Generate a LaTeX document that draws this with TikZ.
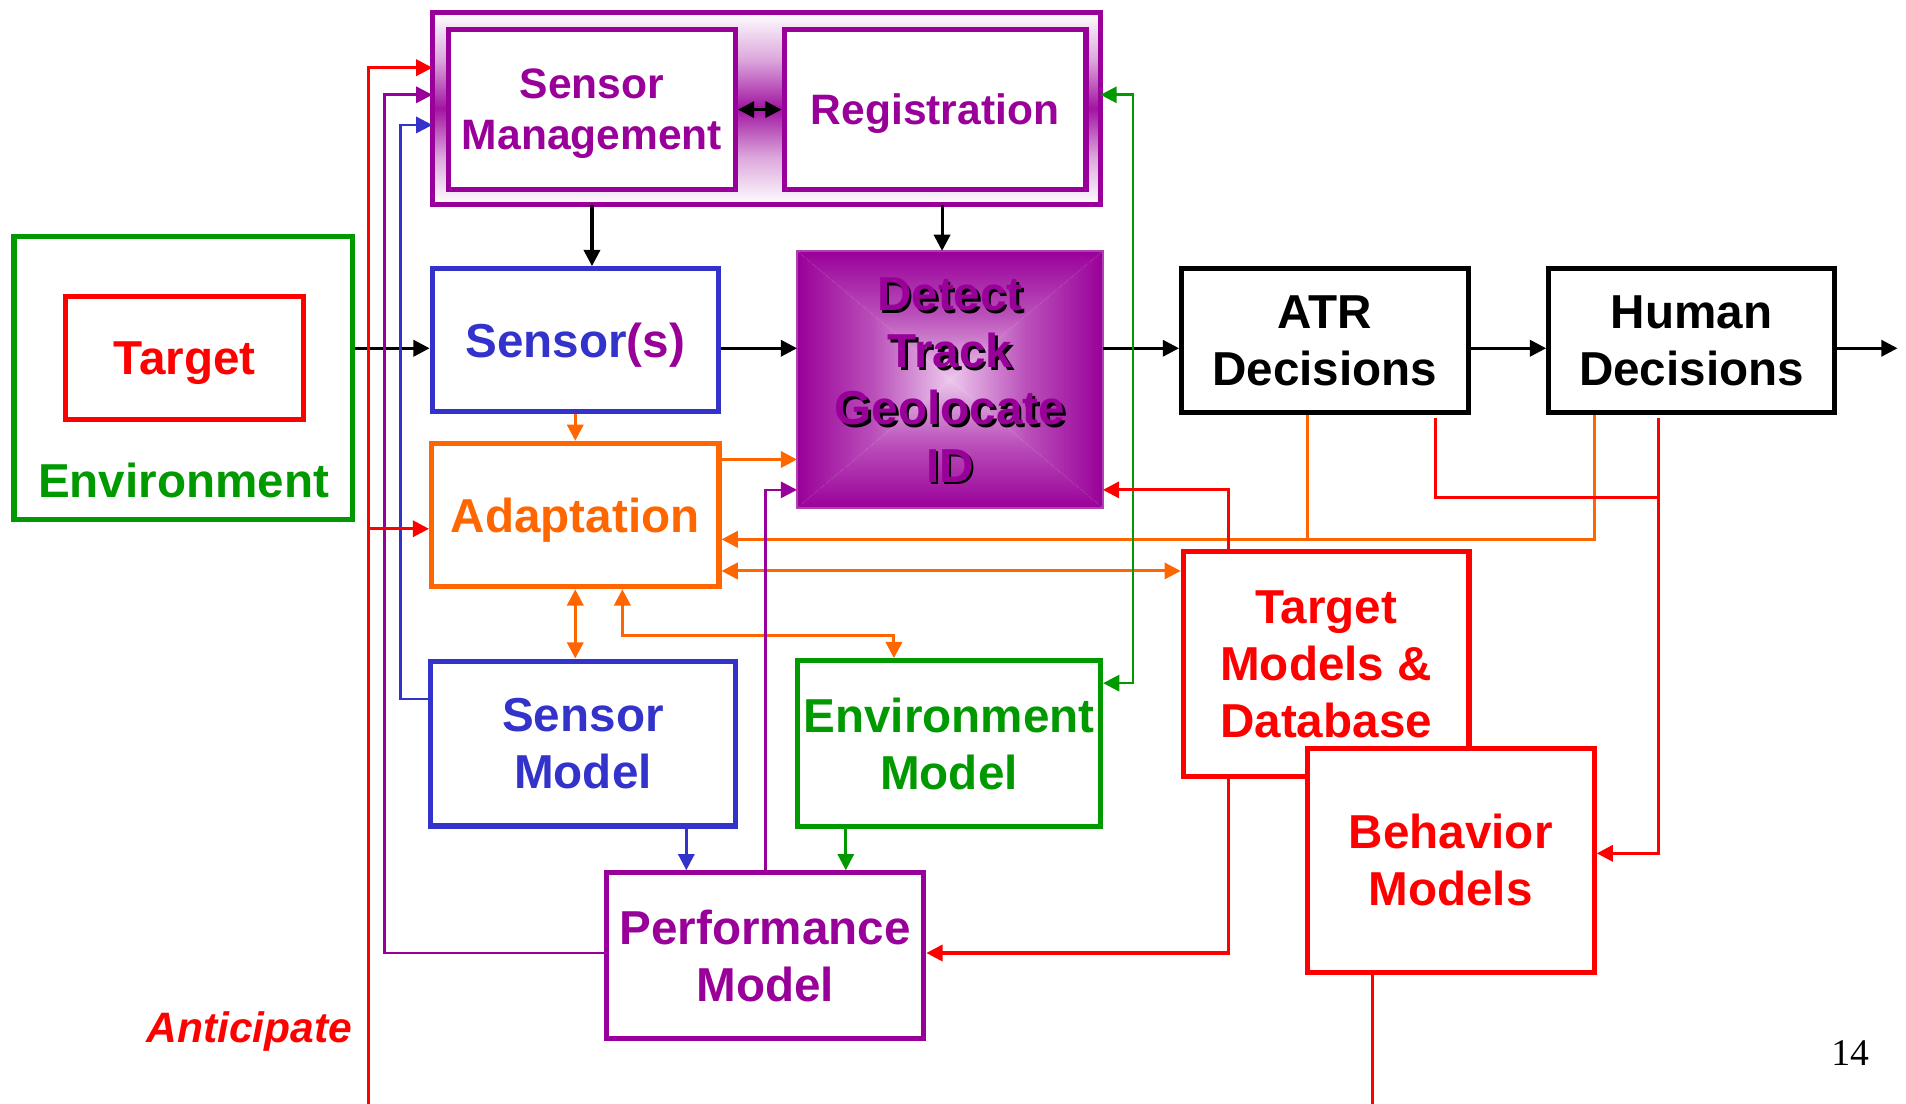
\documentclass[tikz,border=0pt]{standalone}
\usepackage{fontspec}
\setmainfont{Liberation Sans}
\newfontfamily\pagenumfont{Liberation Serif}
\usetikzlibrary{arrows.meta,calc}
\definecolor{cpur}{RGB}{153,0,153}
\definecolor{cblu}{RGB}{51,51,204}
\definecolor{cgrn}{RGB}{0,153,0}
\definecolor{cred}{RGB}{255,0,0}
\definecolor{corg}{RGB}{255,102,0}
\definecolor{clil}{RGB}{236,200,236}
\newcommand{\bigtxt}{\fontsize{23.5}{28.2}\selectfont\bfseries}
\newcommand{\medtxt}{\fontsize{21}{25.2}\selectfont\bfseries}
\begin{document}
\begin{tikzpicture}[x=0.6pt,y=-0.6pt,
  >={Triangle[length=8pt,width=8pt]},
  sz/.style 2 args={minimum width=#1*0.6pt,minimum height=#2*0.6pt},
  box/.style={draw,line width=2.5pt,fill=white,inner sep=0pt,align=center,font=\bigtxt},
  nodepth/.style={text depth=0pt},
  con/.style={line width=1.5pt},
  conthin/.style={line width=1.3pt}]
\useasboundingbox (0,0) rectangle (1568,908);

% ---- sensor management group
\path node[sz={549}{157.7},inner sep=0pt] (grp) at (630.5,89.15) {};
\shade[top color=white, bottom color=cpur!92, middle color=cpur!35] (grp.north west) rectangle (grp.east);
\shade[top color=cpur!92, bottom color=white, middle color=cpur!35] (grp.west) rectangle (grp.south east);
\draw[cpur,line width=2.5pt] (grp.north west) rectangle (grp.south east);
\node[box,nodepth,draw=cpur,text=cpur,font=\medtxt,sz={236}{131.1}] (sm) at (487,90.15) {Sensor\\Management};
\node[box,nodepth,draw=cpur,text=cpur,font=\medtxt,sz={248.4}{131.1}] (reg) at (769.2,90.15) {Registration};

% ---- environment
\node[box,draw=cgrn,sz={278.1}{232.8}] (env) at (150.55,311.1) {};
\node[box,nodepth,draw=cred,text=cred,sz={196}{101}] (tgt) at (152,294.5) {Target};
\node[text=cgrn,font=\bigtxt] (envlbl) at (151,395) {Environment};

% ---- main boxes
\node[box,nodepth,draw=cblu,text=cblu,sz={235.5}{117.5}] (sens) at (473.25,279.75) {Sensor\textcolor{cpur}{(s)}};
\node[box,draw=black,sz={235.7}{118.1}] (atr) at (1089.85,280.25) {ATR\\Decisions};
\node[box,draw=black,sz={235}{118.1}] (hum) at (1391.5,280.25) {Human\\Decisions};
\node[box,nodepth,draw=corg,text=corg,sz={236.5}{118}] (adp) at (473.25,423.7) {Adaptation};
\node[box,draw=cblu,text=cblu,sz={250.3}{135.7}] (smod) at (479.55,611.65) {Sensor\\Model};
\node[box,draw=cgrn,text=cgrn,sz={249.4}{136.5}] (emod) at (780.7,611.75) {Environment\\Model};
\node[box,draw=cpur,text=cpur,sz={261}{136.7}] (perf) at (629.5,786.35) {Performance\\Model};
\node[box,draw=cred,text=cred,sz={235.1}{185}] (tmod) at (1090.95,546.5) {Target\\Models \&\\Database};
\node[box,draw=cred,text=cred,sz={236.2}{184.4}] (beh) at (1193.4,707.8) {Behavior\\Models};

% ---- detect box
\path node[sz={251}{210.8},inner sep=0pt] (det) at (781.5,312.1) {};
\shade[top color=cpur, bottom color=clil, middle color=cpur!60!clil] (det.north west) -- (det.north east) -- (det.center) -- cycle;
\shade[top color=clil, bottom color=cpur, middle color=cpur!60!clil] (det.south west) -- (det.south east) -- (det.center) -- cycle;
\shade[left color=cpur, right color=clil, middle color=cpur!60!clil] (det.north west) -- (det.south west) -- (det.center) -- cycle;
\shade[left color=clil, right color=cpur, middle color=cpur!60!clil] (det.north east) -- (det.south east) -- (det.center) -- cycle;
\draw[cpur!75,line width=0.9pt] (det.north west) rectangle (det.south east);
\node[font=\bigtxt,align=center,text=black] (detsh) at ($(det.center)+(2,2.5)$) {Detect\\Track\\Geolocate\\ID};
\node[font=\bigtxt,align=center,text=cpur] (dettx) at ($(det.center)+(0,0.5)$) {Detect\\Track\\Geolocate\\ID};

% ---- coordinates
\coordinate (ymain) at (0,286.5);
\coordinate (outc) at (1561,286.5);
\coordinate (xreg) at (775,0);
\coordinate (rbot) at (303,908);
\coordinate (rj) at (303,435);
\coordinate (atrr) at (1181,344);
\coordinate (humr) at (1364.6,344);
\coordinate (bbot) at (1129.2,908);

% ---- black connectors
\draw[con,->] (env.east |- ymain) -- (sens.west |- ymain);
\draw[con,->] (sens.east |- ymain) -- (det.west |- ymain);
\draw[con,->] (det.east |- ymain) -- (atr.west |- ymain);
\draw[con,->] (atr.east |- ymain) -- (hum.west |- ymain);
\draw[con,->] (hum.east |- ymain) -- (outc);
\draw[con,->] (grp.south -| sm.south) -- (sens.north -| sm.south);
\draw[con,->] (grp.south -| xreg) -- (det.north -| xreg);
\draw[con,<->] (sm.east) -- (reg.west);

% ---- orange
\draw[con,corg,->] (sens.south) -- (adp.north);
\draw[con,corg,->] (adp.east |- 0,378) -- (det.west |- 0,378);
\draw[con,corg,->] (hum.south -| 1312,0) |- (adp.east |- 0,443.7);
\draw[con,corg] (atr.south -| 1076,0) -- (1076,443.7);
\draw[con,corg,<->] (adp.east |- 0,469.7) -- (tmod.west |- 0,469.7);
\draw[con,corg,<->] (adp.south) -- (smod.north -| adp.south);
\draw[con,corg,<->] (adp.south -| 512,0) -- (512,522.4) -- (735.4,522.4) -- (emod.north -| 735.4,0);

% ---- purple
\draw[conthin,cpur,->] (perf.north) |- (det.west |- 0,403);
\draw[conthin,cpur,->] (perf.west |- 0,784) -| (316.2,78) -- (grp.west |- 0,78);

% ---- blue
\draw[conthin,cblu,->] (smod.west |- 0,575) -| (329.3,102.8) -- (grp.west |- 0,102.8);
\draw[conthin,cblu,->] (smod.south -| 564.6,0) -- (perf.north -| 564.6,0);

% ---- green
\draw[conthin,cgrn,->] (emod.south -| 695.8,0) -- (perf.north -| 695.8,0);
\draw[conthin,cgrn,<->] (grp.east |- 0,78) -- (932,78) -- (932,562) -- (emod.east |- 0,562);

% ---- red
\draw[con,cred,->] (rbot) |- (grp.west |- 0,55.7);
\draw[con,cred,->] (rj) -- (adp.west |- 0,435);
\draw[con,cred,->] (tmod.north -| 1010.7,0) |- (det.east |- 0,403);
\draw[con,cred,->] (tmod.south -| 1010.7,0) |- (perf.east |- 0,784);
\draw[con,cred] (atrr) |- (humr |- 0,409);
\draw[con,cred,->] (humr) |- (beh.east |- 0,702);
\draw[con,cred] (beh.south -| bbot) -- (bbot);

% ---- labels
\node[nodepth,font=\fontsize{21}{25}\selectfont\bfseries\itshape,text=cred] (antic) at (205,845) {Anticipate};
\node[font=\pagenumfont\fontsize{18.6}{22}\selectfont] (pnum) at (1522,866) {14};
\end{tikzpicture}
\end{document}
